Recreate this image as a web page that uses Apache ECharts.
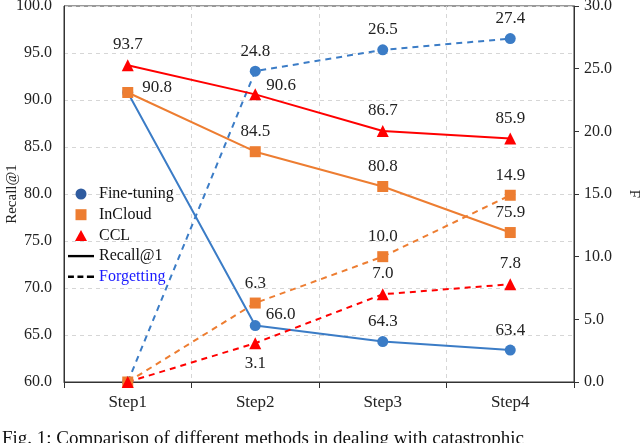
<!DOCTYPE html>
<html>
<head>
<meta charset="utf-8">
<script src="https://cdn.jsdelivr.net/npm/echarts@6/dist/echarts.min.js"></script>
<style>
  html, body { margin: 0; padding: 0; background: #fff; }
  #chart { width: 640px; height: 443px; }
</style>
</head>
<body>
<div id="chart"></div>
<script>
// data
const steps = ['Step1', 'Step2', 'Step3', 'Step4']
const fineRecall = [90.8, 66.0, 64.3, 63.4]
const fineForget = [0, 24.8, 26.5, 27.4]
const incloudRecall = [90.8, 84.5, 80.8, 75.9]
const incloudForget = [0, 6.3, 10.0, 14.9]
const cclRecall = [93.7, 90.6, 86.7, 85.9]
const cclForget = [0, 3.1, 7.0, 7.8]

const FONT = "'Liberation Serif', 'Times New Roman', serif"
const BLUE = '#3b7cc6'
const ORANGE = '#ed7d31'
const RED = '#ff0000'

// label tweaks per point: null hides the label
function pts(values, tweaks) {
  return values.map((v, i) => {
    const t = tweaks ? tweaks[i] : undefined
    if (t === null) return { value: v, label: { show: false } }
    if (t) return { value: v, label: t }
    return v
  })
}

function series(name, data, color, symbol, size, dashed, yIdx, tweaks) {
  return {
    name: name,
    type: 'line',
    yAxisIndex: yIdx,
    data: pts(data, tweaks),
    symbol: symbol,
    symbolSize: size,
    itemStyle: { color: color },
    lineStyle: { color: color, width: 2, type: dashed ? [6, 5] : 'solid' },
    label: {
      show: true,
      position: 'top',
      distance: 6,
      fontFamily: FONT,
      fontSize: 17,
      color: '#222',
      formatter: p => p.value.toFixed(1)
    }
  }
}

const chart = echarts.init(document.getElementById('chart'))

chart.setOption({
  animation: false,
  textStyle: { fontFamily: FONT },
  grid: {
    left: 64, right: 66, top: 6, bottom: 61,
    outerBoundsMode: 'none',
    containLabel: false,
    show: true, borderColor: '#333', borderWidth: 1
  },
  legend: {
    orient: 'vertical',
    left: 63,
    top: 181,
    itemWidth: 26,
    itemHeight: 11,
    itemGap: 4.7,
    symbolKeepAspect: true,
    textStyle: { fontFamily: FONT, fontSize: 16, color: '#111' },
    data: [
      { name: 'Fine-tuning', icon: 'circle', itemStyle: { color: '#2f5b9f' } },
      { name: 'InCloud', icon: 'path://M0,0 L10,0 L10,10 L0,10 Z' },
      { name: 'CCL', icon: 'path://M6,0 L12,11 L0,11 Z' },
      { name: 'Recall@1', icon: 'path://M0,0 L22,0 L22,2 L0,2 Z' },
      { name: 'Forgetting', icon: 'path://M0,0 L5,0 L5,2 L0,2 Z M8,0 L13,0 L13,2 L8,2 Z M16,0 L22,0 L22,2 L16,2 Z',
        textStyle: { color: '#1a1aff' } }
    ]
  },
  xAxis: {
    type: 'category',
    data: steps,
    boundaryGap: true,
    axisLine: { lineStyle: { color: '#333', width: 1 } },
    axisTick: { show: true, length: 6, lineStyle: { color: '#333' } },
    axisLabel: { fontFamily: FONT, fontSize: 17, color: '#222', margin: 12 },
    splitLine: { show: true, lineStyle: { color: '#d6d6d6', type: [4, 4] } }
  },
  yAxis: [
    {
      type: 'value',
      min: 60, max: 100, interval: 5,
      name: 'Recall@1',
      nameLocation: 'middle',
      nameGap: 44,
      nameMoveOverlap: false,
      nameRotate: 90,
      nameTextStyle: { fontFamily: FONT, fontSize: 15, color: '#222' },
      axisLine: { show: true, lineStyle: { color: '#333' } },
      axisTick: { show: false },
      axisLabel: { fontFamily: FONT, fontSize: 16, color: '#222', margin: 12, formatter: v => v.toFixed(1) },
      splitLine: { show: true, lineStyle: { color: '#d6d6d6', type: [4, 4] } }
    },
    {
      type: 'value',
      min: 0, max: 30, interval: 5,
      name: 'F',
      nameLocation: 'middle',
      nameGap: 52,
      nameMoveOverlap: false,
      nameRotate: -90,
      nameTextStyle: { fontFamily: FONT, fontSize: 15, color: '#222' },
      axisLine: { show: true, lineStyle: { color: '#333' } },
      axisTick: { show: true, length: 5, lineStyle: { color: '#333' } },
      axisLabel: { fontFamily: FONT, fontSize: 16, color: '#222', margin: 10, formatter: v => v.toFixed(1) },
      splitLine: { show: false }
    }
  ],
  series: [
    series('Fine-tuning', fineRecall, BLUE, 'circle', 11, false, 0,
      [null, { position: 'right', distance: 5, offset: [0, -11] }]),
    series('Fine-tuning F', fineForget, BLUE, 'circle', 11, true, 1, [null]),
    series('InCloud', incloudRecall, ORANGE, 'rect', 11, false, 0,
      [{ position: 'right', distance: 9, offset: [0, -5] }]),
    series('InCloud F', incloudForget, ORANGE, 'rect', 11, true, 1, [null]),
    series('CCL', cclRecall, RED, 'triangle', 12, false, 0,
      [undefined, { position: 'right', distance: 5, offset: [0, -9] }]),
    series('CCL F', cclForget, RED, 'triangle', 12, true, 1,
      [null, { position: 'bottom', distance: 6 }]),
    { name: 'Recall@1', type: 'line', data: [], itemStyle: { color: '#000' } },
    { name: 'Forgetting', type: 'line', data: [], itemStyle: { color: '#000' } }
  ],
  graphic: [
    {
      type: 'text',
      left: 2,
      top: 430,
      style: {
        text: 'Fig. 1: Comparison of different methods in dealing with catastrophic',
        fontFamily: FONT,
        fontSize: 19,
        fill: '#111'
      }
    }
  ]
})
</script>
</body>
</html>
